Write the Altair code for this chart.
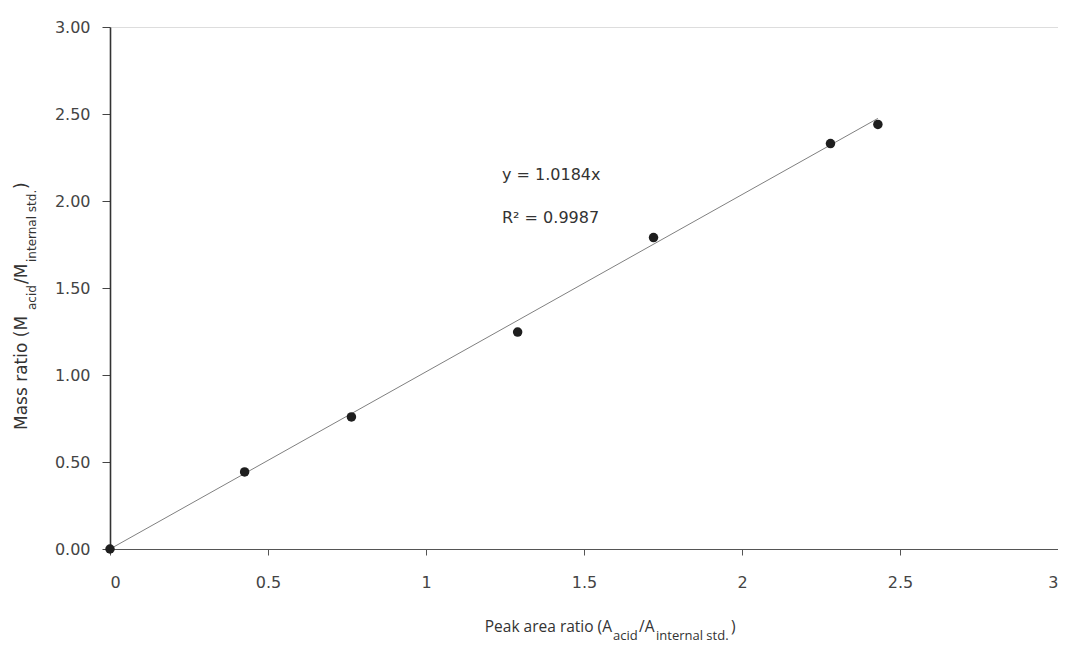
import altair as alt
import pandas as pd

# ---- data ----
peak_ratio = [0.0, 0.426, 0.764, 1.29, 1.72, 2.28, 2.43]
mass_ratio = [0.0, 0.443, 0.759, 1.247, 1.79, 2.33, 2.44]
slope = 1.0184
trend_x = [0.0, 2.43]
tick_vals = [0.0, 0.5, 1.0, 1.5, 2.0, 2.5, 3.0]

TFONT = "Open Sans"
NFONT = "DejaVu Sans"
TXT = "#333333"
LBL = "#444444"

pts = pd.DataFrame({"x": peak_ratio, "y": mass_ratio})
trend = pd.DataFrame({"x": trend_x, "y": [slope * v for v in trend_x]})

xs = alt.Scale(domain=[0, 3], nice=False, zero=True)
ys = alt.Scale(domain=[0, 3], nice=False, zero=True)

x_axis = alt.Axis(values=tick_vals, format="~g", title=None, grid=False,
                  domainColor="#555555", domainWidth=1, tickColor="#555555",
                  tickSize=6, labelPadding=19, labelFontSize=16, labelFont=NFONT,
                  labelColor=LBL)
y_axis = alt.Axis(values=tick_vals, format=".2f", title=None, grid=False,
                  domainColor="#333333", domainWidth=1.6, tickColor="#444444",
                  tickSize=8, labelPadding=12, labelFontSize=16, labelFont=NFONT,
                  labelColor=LBL)

line = alt.Chart(trend).mark_line(color="#808080", strokeWidth=1).encode(
    x=alt.X("x:Q", scale=xs, axis=x_axis),
    y=alt.Y("y:Q", scale=ys, axis=y_axis),
)

points = alt.Chart(pts).mark_circle(color="#1e1e1e", opacity=1, size=90).encode(
    x=alt.X("x:Q", scale=xs),
    y=alt.Y("y:Q", scale=ys),
)


def label(text, x, y, size, font, angle=0, align="left"):
    return alt.Chart(alt.Data(values=[{}])).mark_text(
        text=text, fontSize=size, font=font, color=TXT, align=align,
        baseline="alphabetic", angle=angle,
    ).encode(x=alt.value(x), y=alt.value(y))


# x-axis title: Peak area ratio (A_acid/A_internal std.)
xt = [
    label("Peak area ratio (A", 502, 605, 15.5, TFONT, align="right"),
    label("acid", 503, 613, 13, TFONT),
    label("/A", 529, 605, 15.5, TFONT),
    label("internal std.", 546, 613, 13, TFONT),
    label(")", 621, 605, 15.5, TFONT),
]

# y-axis title (rotated): Mass ratio (M_acid/M_internal std.)
yt = [
    label("Mass ratio (M", -83, 403, 17, NFONT, angle=270),
    label("acid", -74, 283, 12, NFONT, angle=270),
    label("/M", -83, 257, 17, NFONT, angle=270),
    label("internal std.", -74, 235, 12, NFONT, angle=270),
    label(")", -83, 162, 17, NFONT, angle=270),
]

ann = [
    label("y = 1.0184x", 392, 153, 16, NFONT),
    label("R\u00b2 = 0.9987", 392, 196, 16, NFONT),
]

chart = alt.layer(line, points, *xt, *yt, *ann).properties(
    width=948, height=522,
    autosize=alt.AutoSizeParams(type="none"),
    padding={"left": 102, "top": 19, "right": 0, "bottom": 95},
).configure_view(stroke="#bbbbbb", strokeWidth=1).configure(background="white")

chart.save("out.html", embed_options={"renderer": "svg", "actions": False})
